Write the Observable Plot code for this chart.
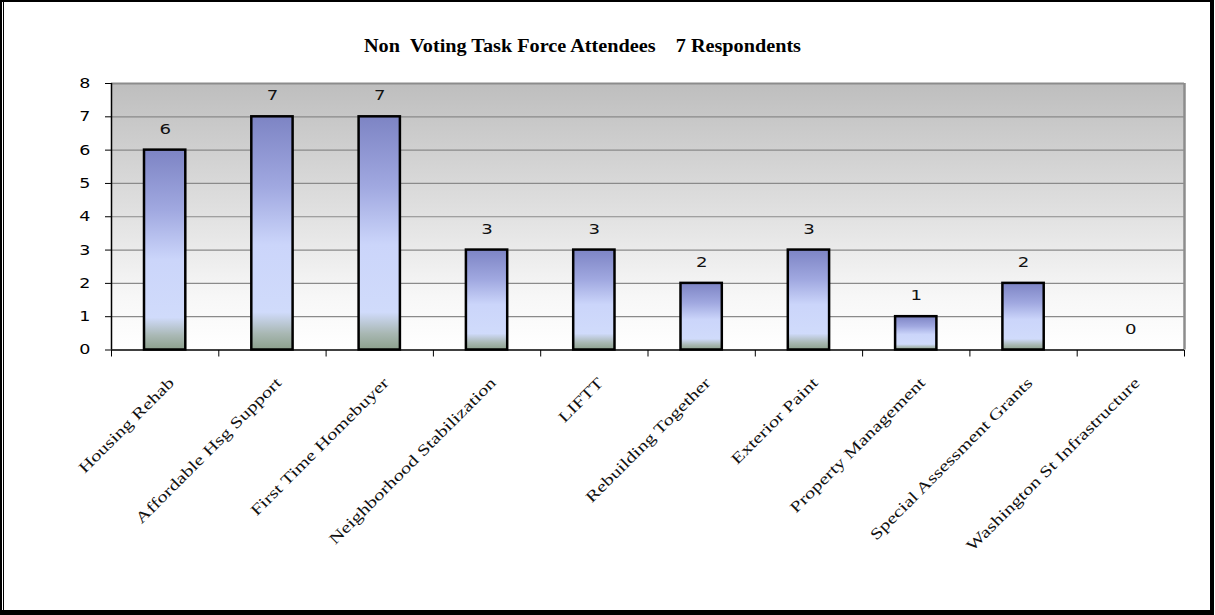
<!DOCTYPE html>
<html><head><meta charset="utf-8">
<script src="https://cdn.jsdelivr.net/npm/d3@7"></script>
<script src="https://cdn.jsdelivr.net/npm/@observablehq/plot@0.6"></script>
<style>
html,body{margin:0;padding:0;background:#fff;}
#wrap{position:relative;width:1215px;height:615px;overflow:hidden;}
#wrap svg{position:absolute;left:0;top:0;}
#b1{position:absolute;left:0;top:0;width:1214px;height:615px;box-sizing:border-box;border:2px solid #000;border-right-width:4px;border-bottom-width:5px;pointer-events:none;}
#b2{position:absolute;left:3px;top:2px;width:1px;height:608px;background:#000;pointer-events:none;}
</style></head><body><div id="wrap"><div id="b1"></div><div id="b2"></div></div>
<script>
const categories = ["Housing Rehab","Affordable Hsg Support","First Time Homebuyer","Neighborhood Stabilization","LIFTT","Rebuilding Together","Exterior Paint","Property Management","Special Assessment Grants","Washington St Infrastructure"];
const values = [6,7,7,3,3,2,3,1,2,0];
const yTicks = [0,1,2,3,4,5,6,7,8];
const title = "Non\u00a0\u00a0Voting Task Force Attendees\u00a0\u00a0\u00a0\u00a07 Respondents";

const data = categories.map((c, i) => ({cat: c, i, value: values[i]}));
const n = categories.length;

const svg = Plot.plot({
  width: 1215,
  height: 615,
  marginLeft: 111,
  marginRight: 31,
  marginTop: 83,
  marginBottom: 265.5,
  style: {fontFamily: "DejaVu Sans", fontSize: "14px", color: "#000", background: "transparent", overflow: "visible"},
  x: {domain: [0, n], ticks: d3.range(0, n + 1), tickSize: 7, tickFormat: () => "", label: null},
  y: {domain: [0, 8], ticks: yTicks, tickSize: 6, tickPadding: 15, label: null},
  marks: [
    Plot.frame({fill: "url(#bgGrad)", stroke: "none"}),
    Plot.ruleY(yTicks.slice(1, -1), {stroke: "#8a8a8a", strokeWidth: 1.2}),
    Plot.ruleY([8], {stroke: "#8c8c8c", strokeWidth: 2}),
    Plot.ruleX([n], {y1: 0, y2: 8, stroke: "#8c8c8c", strokeWidth: 2.5}),
    Plot.rectY(data.filter(d => d.value > 0), {
      x1: "i", x2: d => d.i + 1, y1: 0, y2: "value",
      insetLeft: 33, insetRight: 33,
      fill: "url(#barGrad)", stroke: "#000", strokeWidth: 2.5
    }),
    Plot.ruleY([0], {stroke: "#000", strokeWidth: 1.5}),
    Plot.ruleX([0], {y1: 0, y2: 8, stroke: "#000", strokeWidth: 1.5}),
    Plot.text(data, {x: d => d.i + 0.5, y: "value", text: d => String(d.value), dy: -21, fontSize: 14.5, fill: "#111"}),
    Plot.text(data, {
      x: d => d.i + 0.5, y: 0, text: "cat", rotate: -45,
      textAnchor: "end", lineAnchor: "top", dx: 2, dy: 26,
      fontFamily: "Liberation Serif", fontSize: 15.5, fill: "#111"
    }),
    Plot.text([title], {
      frameAnchor: "top", dx: -65.5, dy: -45, text: d => d,
      fontFamily: "Liberation Serif", fontWeight: "bold", fontSize: 18.5, fill: "#000"
    })
  ]
});
document.getElementById("wrap").insertBefore(svg, document.getElementById("b1"));

const defs = d3.select(svg).insert("defs", ":first-child");
const bg = defs.append("linearGradient").attr("id", "bgGrad").attr("x1", 0).attr("y1", 0).attr("x2", 0).attr("y2", 1);
[["0%", "#bebebe"], ["45%", "#dedede"], ["80%", "#f7f7f7"], ["100%", "#ffffff"]].forEach(([o, c]) => bg.append("stop").attr("offset", o).attr("stop-color", c));
const bar = defs.append("linearGradient").attr("id", "barGrad").attr("x1", 0).attr("y1", 0).attr("x2", 0).attr("y2", 1);
[["0%", "#7d84c4"], ["30%", "#a0a8e0"], ["55%", "#cbd5fa"], ["84%", "#d0dbfb"], ["93%", "#a9b8b4"], ["100%", "#8ca08c"]].forEach(([o, c]) => bar.append("stop").attr("offset", o).attr("stop-color", c));

// widen glyphs like the reference rendering
function widen(t, len) {
  t.setAttribute("textLength", len);
  t.setAttribute("lengthAdjust", "spacingAndGlyphs");
}
const catSet = new Set(categories);
svg.querySelectorAll("text").forEach(t => {
  const s = t.textContent;
  const L = t.getComputedTextLength();
  if (!L) return;
  if (s === title) widen(t, 437);
  else if (catSet.has(s)) widen(t, L * 1.33);
  else if (/^\d$/.test(s)) widen(t, L * 1.25);
});
</script></body></html>
